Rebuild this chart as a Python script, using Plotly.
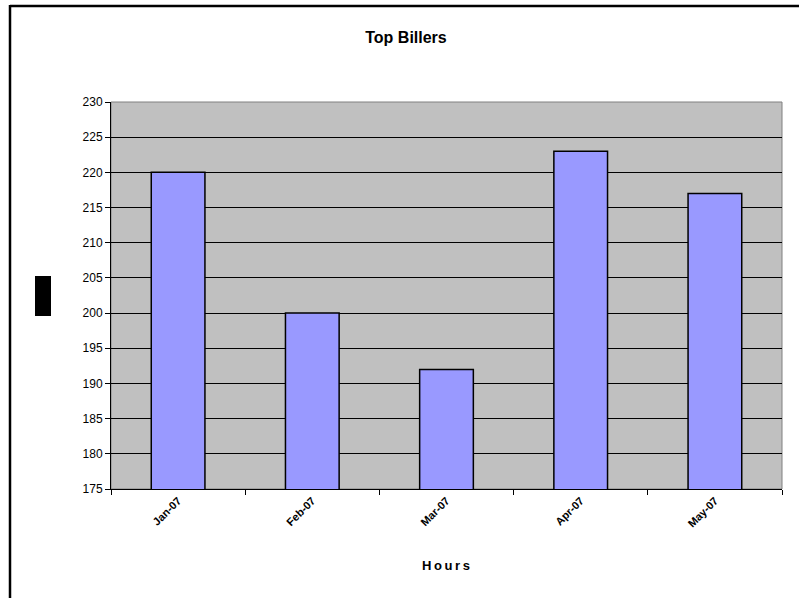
import plotly.graph_objects as go

months = ["Jan-07", "Feb-07", "Mar-07", "Apr-07", "May-07"]
hours = [220, 200, 192, 223, 217]

fig = go.Figure()
fig.add_trace(go.Bar(
    x=months, y=hours,
    marker=dict(color="#9999FF", line=dict(color="black", width=1.5)),
))

fig.update_layout(
    width=799, height=598,
    margin=dict(l=111, r=17, t=102, b=109),
    paper_bgcolor="white",
    plot_bgcolor="#C0C0C0",
    bargap=0.6,
    showlegend=False,
    title=dict(text="<b>Top Billers</b>", x=406/799, xanchor="center",
               y=1-37/598, yanchor="middle",
               font=dict(family="Arial, Liberation Sans", size=16, color="black")),
    font=dict(family="Arial, Liberation Sans", color="black"),
)

fig.update_xaxes(
    tickangle=-45, tickfont=dict(size=11, family="Arial, Liberation Sans", weight="bold"),
    ticks="outside", ticklen=5, tickcolor="black", tickson="boundaries",
    showline=True, linecolor="black", linewidth=1,
    showgrid=False,
)
fig.update_yaxes(
    range=[175, 230], dtick=5, tick0=175,
    ticks="outside", ticklen=5, tickcolor="black",
    tickfont=dict(size=12, family="Arial, Liberation Sans"),
    showline=True, linecolor="black", linewidth=1,
    showgrid=True, gridcolor="black", gridwidth=1,
    zeroline=False,
)

# plot area border (grey top/right)
fig.add_shape(type="rect", xref="paper", yref="paper", x0=0, x1=1, y0=0, y1=1,
              line=dict(color="#808080", width=1), layer="below")

# chart frame: left and top lines
fig.add_shape(type="line", xref="paper", yref="paper",
              x0=(10-111)/671, x1=(10-111)/671, y0=(489-598)/387, y1=(489-5)/387,
              line=dict(color="black", width=2.5))
fig.add_shape(type="line", xref="paper", yref="paper",
              x0=(10-111)/671, x1=(800-111)/671, y0=(489-6)/387, y1=(489-6)/387,
              line=dict(color="black", width=2.5))

# y-axis title rendered as a solid block in the reference
fig.add_shape(type="rect", xref="paper", yref="paper",
              x0=(35-111)/671, x1=(51-111)/671, y0=(489-316)/387, y1=(489-276)/387,
              fillcolor="black", line=dict(width=0))

fig.add_annotation(text="<b>H\u2009o\u2009u\u2009r\u2009s</b>", xref="paper", yref="paper",
                   x=(446-111)/671, y=(489-565)/387, showarrow=False,
                   xanchor="center", yanchor="middle",
                   font=dict(size=13, family="Arial, Liberation Sans", color="black"))

fig.write_html("out.html")
